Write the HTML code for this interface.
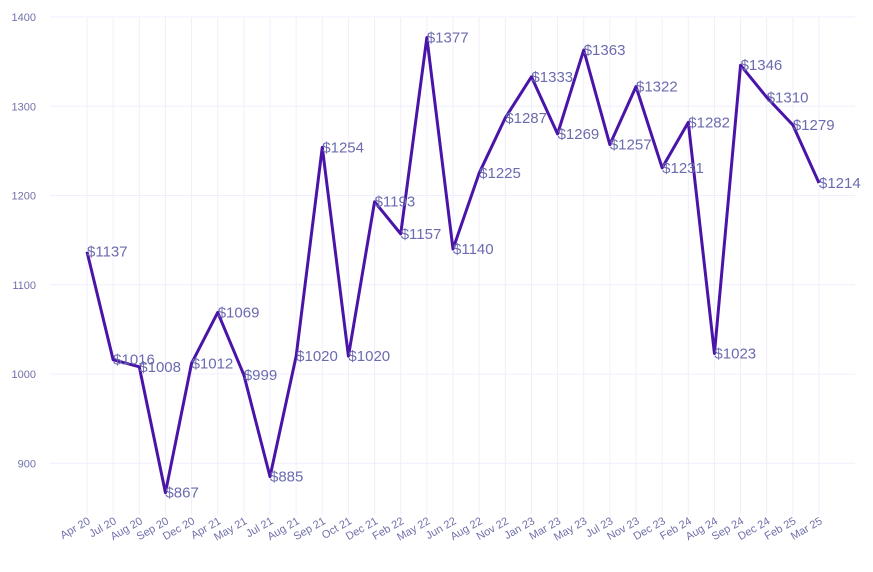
<!DOCTYPE html>
<html><head><meta charset="utf-8"><style>
body{margin:0;background:#fff;}
svg{font-family:"Liberation Sans",sans-serif;}
</style></head><body>
<svg id="chart" width="873" height="567" viewBox="0 0 873 567">
<g id="grid"></g><g id="axes"></g><g id="series"></g>
</svg>
<script>
const categories=["Apr 20","Jul 20","Aug 20","Sep 20","Dec 20","Apr 21","May 21","Jul 21","Aug 21","Sep 21","Oct 21","Dec 21","Feb 22","May 22","Jun 22","Aug 22","Nov 22","Jan 23","Mar 23","May 23","Jul 23","Nov 23","Dec 23","Feb 24","Aug 24","Sep 24","Dec 24","Feb 25","Mar 25"];
const values=[1137,1016,1008,867,1012,1069,999,885,1020,1254,1020,1193,1157,1377,1140,1225,1287,1333,1269,1363,1257,1322,1231,1282,1023,1346,1310,1279,1214];
const yTicks=[900,1000,1100,1200,1300,1400];
const NS="http://www.w3.org/2000/svg";
function x(i){return 87+i*(819-87)/(categories.length-1);}
function y(v){return 374-(v-1000)*0.8925;}
function mk(t,a,p){const e=document.createElementNS(NS,t);for(const k in a)e.setAttribute(k,a[k]);p.appendChild(e);return e;}
const grid=document.getElementById('grid'),axes=document.getElementById('axes'),ser=document.getElementById('series');
yTicks.forEach(v=>{
 const l=mk('line',{x1:50,x2:855,y1:y(v),y2:y(v),stroke:'#f0eefc','stroke-width':1},grid);
 
 
 const t=mk('text',{x:36,y:y(v)+4,'text-anchor':'end','font-size':11,fill:'#7070aa'},axes);
 t.textContent=v;
 
 
});
categories.forEach((c,i)=>{
 const l=mk('line',{x1:x(i),x2:x(i),y1:17,y2:515,stroke:'#f0eefc','stroke-width':1},grid);
 
 
 const t=mk('text',{x:x(i)+4,y:523,'text-anchor':'end','font-size':11,fill:'#7070aa',transform:`rotate(-30 ${x(i)+4} 523)`},axes);
 t.textContent=c;
 
 
});
const p=mk('polyline',{points:values.map((v,i)=>x(i)+','+y(v)).join(' '),fill:'none',stroke:'#4a14a8','stroke-width':3,'stroke-linejoin':'round'},ser);


values.forEach((v,i)=>{
 const t=mk('text',{x:x(i),y:y(v)+5,'font-size':15,fill:'#6b6bb0'},ser);
 t.textContent='$'+v;
 
 
});
</script>
</body></html>
